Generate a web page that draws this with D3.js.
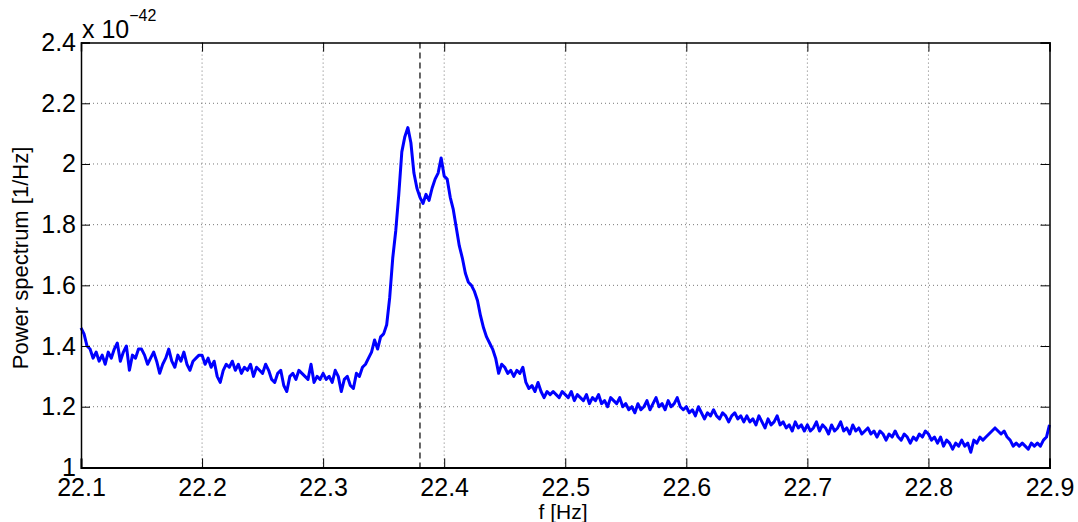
<!DOCTYPE html>
<html>
<head>
<meta charset="utf-8">
<script src="https://cdn.jsdelivr.net/npm/d3@7"></script>
<style>
  html, body { margin: 0; padding: 0; background: #fff; }
  svg { display: block; font-family: "Liberation Sans", Arial, Helvetica, sans-serif; }
</style>
</head>
<body>
<svg id="chart" width="1078" height="522"></svg>
<script>
// ---- data (power spectrum in units of 1e-42 1/Hz), frequency step 0.0025 Hz from 22.1 ----
const fStart = 22.1;
const fStep = 0.0025;
const powerValues = [
  // 22.100 - 22.1475
  1.46, 1.44, 1.40, 1.39, 1.36, 1.38, 1.35, 1.37, 1.34, 1.38, 1.36, 1.39, 1.41, 1.35, 1.38, 1.40, 1.32, 1.37, 1.36, 1.39,
  // 22.150 - 22.1975
  1.39, 1.37, 1.34, 1.36, 1.38, 1.35, 1.31, 1.34, 1.36, 1.39, 1.35, 1.33, 1.37, 1.35, 1.38, 1.34, 1.32, 1.35, 1.36, 1.37,
  // 22.200 - 22.2475
  1.37, 1.34, 1.36, 1.33, 1.35, 1.30, 1.28, 1.32, 1.34, 1.33, 1.35, 1.32, 1.34, 1.31, 1.33, 1.32, 1.34, 1.30, 1.33, 1.32,
  // 22.250 - 22.2975
  1.31, 1.34, 1.32, 1.29, 1.28, 1.31, 1.32, 1.27, 1.25, 1.30, 1.31, 1.29, 1.32, 1.31, 1.30, 1.29, 1.34, 1.28, 1.30, 1.29,
  // 22.300 - 22.3475
  1.31, 1.29, 1.30, 1.28, 1.32, 1.30, 1.25, 1.29, 1.30, 1.27, 1.26, 1.31, 1.30, 1.33, 1.34, 1.36, 1.38, 1.42, 1.39, 1.43,
  // 22.350 - 22.3975
  1.44, 1.47, 1.56, 1.69, 1.78, 1.90, 2.04, 2.09, 2.12, 2.07, 1.97, 1.92, 1.89, 1.87, 1.90, 1.88, 1.92, 1.95, 1.97, 2.02,
  // 22.400 - 22.4475
  1.96, 1.95, 1.89, 1.85, 1.79, 1.73, 1.69, 1.64, 1.61, 1.60, 1.58, 1.55, 1.50, 1.46, 1.43, 1.41, 1.39, 1.36, 1.31, 1.34,
  // 22.450 - 22.4975
  1.33, 1.31, 1.32, 1.30, 1.32, 1.31, 1.33, 1.28, 1.26, 1.27, 1.25, 1.28, 1.25, 1.23, 1.25, 1.24, 1.25, 1.24, 1.23, 1.25,
  // 22.500 - 22.5475
  1.24, 1.23, 1.25, 1.22, 1.24, 1.23, 1.22, 1.24, 1.21, 1.23, 1.22, 1.24, 1.21, 1.22, 1.20, 1.23, 1.22, 1.21, 1.23, 1.20,
  // 22.550 - 22.5975
  1.21, 1.19, 1.20, 1.18, 1.21, 1.19, 1.20, 1.22, 1.19, 1.21, 1.23, 1.20, 1.21, 1.19, 1.22, 1.20, 1.21, 1.23, 1.20, 1.19,
  // 22.600 - 22.6475
  1.20, 1.18, 1.19, 1.17, 1.20, 1.18, 1.16, 1.18, 1.17, 1.19, 1.17, 1.16, 1.18, 1.17, 1.15, 1.17, 1.18, 1.16, 1.17, 1.15,
  // 22.650 - 22.6975
  1.17, 1.15, 1.16, 1.14, 1.17, 1.15, 1.13, 1.16, 1.14, 1.15, 1.17, 1.14, 1.15, 1.13, 1.14, 1.12, 1.15, 1.13, 1.14, 1.12,
  // 22.700 - 22.7475
  1.14, 1.12, 1.13, 1.15, 1.12, 1.14, 1.13, 1.11, 1.14, 1.12, 1.13, 1.15, 1.12, 1.13, 1.11, 1.14, 1.12, 1.13, 1.11, 1.12,
  // 22.750 - 22.7975
  1.13, 1.11, 1.12, 1.10, 1.12, 1.11, 1.09, 1.11, 1.10, 1.12, 1.10, 1.09, 1.11, 1.10, 1.08, 1.10, 1.09, 1.11, 1.10, 1.12,
  // 22.800 - 22.8475
  1.11, 1.09, 1.10, 1.08, 1.10, 1.07, 1.09, 1.08, 1.06, 1.08, 1.07, 1.09, 1.07, 1.08, 1.05, 1.09, 1.08, 1.10, 1.09, 1.10,
  // 22.850 - 22.8975
  1.11, 1.12, 1.13, 1.12, 1.11, 1.12, 1.10, 1.09, 1.07, 1.08, 1.07, 1.08, 1.07, 1.06, 1.08, 1.07, 1.08, 1.07, 1.09, 1.10,
  // 22.900
  1.14
];
const markerFreq = 22.38;
const xTicks = [22.1, 22.2, 22.3, 22.4, 22.5, 22.6, 22.7, 22.8, 22.9];
const yTicks = [1, 1.2, 1.4, 1.6, 1.8, 2, 2.2, 2.4];
const xLabel = "f [Hz]";
const yLabel = "Power spectrum [1/Hz]";
const exponent = "\u221242";

// ---- layout ----
const svg = d3.select("#chart");
const mLeft = 81, mRight = 1049.5, mTop = 42.6, mBottom = 467.4;

const x = d3.scaleLinear().domain([22.1, 22.9]).range([mLeft, mRight]);
const y = d3.scaleLinear().domain([1, 2.4]).range([mBottom, mTop]);

const data = powerValues.map((v, i) => ({ f: fStart + i * fStep, p: v }));

// grid
const grid = svg.append("g");
grid.selectAll("line.gx").data(xTicks.slice(1, -1)).join("line")
  .attr("x1", d => x(d)).attr("x2", d => x(d))
  .attr("y1", mTop).attr("y2", mBottom)
  .attr("stroke", "#777").attr("stroke-width", 1).attr("stroke-dasharray", "1,3");
grid.selectAll("line.gy").data(yTicks.slice(1, -1)).join("line")
  .attr("y1", d => y(d)).attr("y2", d => y(d))
  .attr("x1", mLeft).attr("x2", mRight)
  .attr("stroke", "#777").attr("stroke-width", 1).attr("stroke-dasharray", "1,3");

// dashed marker
svg.append("line")
  .attr("x1", x(markerFreq)).attr("x2", x(markerFreq))
  .attr("y1", mTop).attr("y2", mBottom)
  .attr("stroke", "#000").attr("stroke-width", 1.2).attr("stroke-dasharray", "6,4");

// line
svg.append("path").datum(data)
  .attr("fill", "none").attr("stroke", "#0000ff").attr("stroke-width", 3)
  .attr("stroke-linejoin", "round")
  .attr("d", d3.line().x(d => x(d.f)).y(d => y(d.p)));

// axes (MATLAB box with inward ticks)
const tickLen = 9;
const xAxisB = d3.axisBottom(x).tickValues(xTicks).tickSize(-tickLen).tickPadding(11)
  .tickFormat(d3.format(".1f"));
const gxb = svg.append("g").attr("transform", `translate(0,${mBottom})`).call(xAxisB);
gxb.select(".domain").attr("stroke-width", 2);
gxb.selectAll("text").attr("font-size", 25).attr("fill", "#000").attr("font-family", "Liberation Sans, Arial, sans-serif");

const xAxisT = d3.axisTop(x).tickValues(xTicks).tickSize(-tickLen).tickFormat("");
const gxt = svg.append("g").attr("transform", `translate(0,${mTop})`).call(xAxisT);
gxt.select(".domain").attr("stroke-width", 1.5);

const yAxisL = d3.axisLeft(y).tickValues(yTicks).tickSize(-tickLen).tickPadding(5)
  .tickFormat(d => String(Math.round(d * 10) / 10));
const gyl = svg.append("g").attr("transform", `translate(${mLeft},0)`).call(yAxisL);
gyl.select(".domain").attr("stroke-width", 1.5);
gyl.selectAll("text").attr("font-size", 25).attr("fill", "#000").attr("font-family", "Liberation Sans, Arial, sans-serif");

const yAxisR = d3.axisRight(y).tickValues(yTicks).tickSize(-tickLen).tickFormat("");
const gyr = svg.append("g").attr("transform", `translate(${mRight},0)`).call(yAxisR);
gyr.select(".domain").attr("stroke-width", 1.5);

svg.selectAll(".tick line").attr("stroke", "#000");
svg.selectAll(".domain").attr("stroke", "#000");

// axis labels
svg.append("text").attr("x", 563).attr("y", 519).attr("text-anchor", "middle")
  .attr("font-size", 21).text(xLabel);
svg.append("text").attr("transform", "translate(28,258) rotate(-90)").attr("text-anchor", "middle")
  .attr("font-size", 22).text(yLabel);

// exponent
const ex = svg.append("text").attr("x", 82).attr("y", 38).attr("font-size", 25);
ex.append("tspan").text("x 10");
ex.append("tspan").attr("font-size", 16).attr("dy", -17).text(exponent);
</script>
</body>
</html>
